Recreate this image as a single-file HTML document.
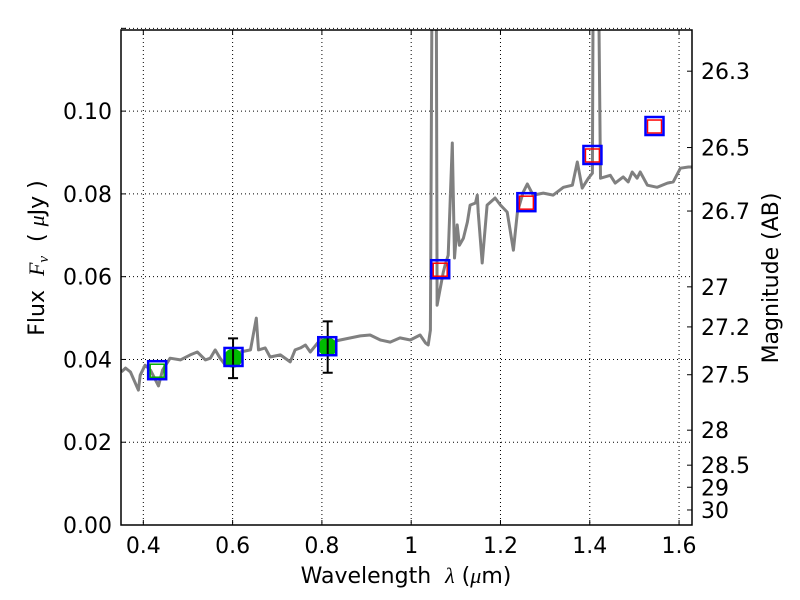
<!DOCTYPE html>
<html><head><meta charset="utf-8"><style>
body{margin:0;background:#fff}
svg{display:block;font-family:"DejaVu Sans","Liberation Sans",sans-serif}
</style></head><body>
<svg id="chart" width="800" height="600" viewBox="0 0 800 600">
<g id="grid"></g>
<g id="plot"></g>
<g id="axes"></g>
<text x="406" y="583" font-size="22" text-anchor="middle">Wavelength&#160;&#160;<tspan font-style="italic" font-family="Liberation Serif">λ</tspan> (<tspan font-style="italic" font-family="Liberation Serif">μ</tspan>m)</text>
<text transform="translate(44,258) rotate(-90)" font-size="22" text-anchor="middle">Flux&#160;&#160;<tspan font-style="italic" font-family="Liberation Serif">F</tspan><tspan font-style="italic" font-family="Liberation Serif" font-size="15" dy="4">ν</tspan><tspan dy="-4">&#160;&#160;(&#160;</tspan><tspan font-style="italic" font-family="Liberation Serif">μ</tspan>Jy )</text>
<text transform="translate(778,278) rotate(-90)" font-size="22" text-anchor="middle">Magnitude (AB)</text>
</svg>
<script>
const specWl=[0.351,0.360,0.371,0.389,0.393,0.404,0.416,0.434,0.443,0.460,0.483,0.505,0.521,0.539,0.550,0.561,0.572,0.584,0.599,0.617,0.640,0.653,0.658,0.673,0.684,0.707,0.729,0.740,0.752,0.763,0.774,0.796,0.819,0.841,0.864,0.886,0.908,0.931,0.953,0.975,0.998,1.020,1.032,1.038,1.043,1.047,1.056,1.058,1.072,1.076,1.083,1.092,1.097,1.103,1.108,1.117,1.126,1.132,1.144,1.148,1.150,1.159,1.170,1.188,1.200,1.215,1.229,1.238,1.251,1.260,1.273,1.296,1.318,1.341,1.361,1.372,1.383,1.397,1.406,1.408,1.419,1.424,1.446,1.457,1.475,1.486,1.495,1.506,1.513,1.529,1.551,1.574,1.587,1.603,1.621,1.632];
const specFlux=[0.0370,0.0379,0.0370,0.0326,0.0362,0.0386,0.0374,0.0336,0.0374,0.0403,0.0399,0.0411,0.0418,0.0399,0.0403,0.0423,0.0403,0.0386,0.0411,0.0418,0.0423,0.0500,0.0423,0.0428,0.0406,0.0411,0.0394,0.0423,0.0428,0.0435,0.0418,0.0447,0.0442,0.0447,0.0452,0.0457,0.0459,0.0447,0.0442,0.0452,0.0447,0.0459,0.0440,0.0435,0.0471,0.14,0.14,0.0531,0.0611,0.0628,0.0652,0.0923,0.0645,0.0725,0.0676,0.0693,0.0732,0.0773,0.0778,0.0797,0.0756,0.0633,0.0773,0.0790,0.0773,0.0756,0.0664,0.0756,0.0804,0.0824,0.0797,0.0802,0.0797,0.0816,0.0821,0.0877,0.0814,0.0838,0.0850,0.14,0.14,0.0838,0.0845,0.0826,0.0841,0.0829,0.0853,0.0838,0.0853,0.0821,0.0816,0.0826,0.0829,0.0862,0.0865,0.0865];
const obsWl=[0.601,0.813];
const obsFlux=[0.0403,0.0430];
const obsErr=[0.0048,0.0062];
const modelWl=[0.431,0.602,0.812,1.065,1.258,1.406,1.545];
const modelFlux=[0.0374,0.0406,0.0432,0.0618,0.0780,0.0894,0.0964];
const innerColor=['#00aa00',null,null,'red','red','red','red'];
const xTicks=[0.4,0.6,0.8,1.0,1.2,1.4,1.6];
const xTickLabels=['0.4','0.6','0.8','1','1.2','1.4','1.6'];
const yTicks=[0,0.02,0.04,0.06,0.08,0.10,0.12];
const yTickLabels=['0.00','0.02','0.04','0.06','0.08','0.10',''];
const magTicks=[26.3,26.5,26.7,27,27.2,27.5,28,28.5,29,30];

const L=121,R=692,T=30,B=525,X0=0.35,X1=1.629,Y0=0,Y1=0.1196;
const xs=v=>L+(v-X0)/(X1-X0)*(R-L);
const ys=v=>B-(v-Y0)/(Y1-Y0)*(B-T);
const NS='http://www.w3.org/2000/svg';
function mk(tag,attrs,parent){const e=document.createElementNS(NS,tag);for(const k in attrs)e.setAttribute(k,attrs[k]);parent.appendChild(e);return e;}
const grid=document.getElementById('grid'),plot=document.getElementById('plot'),axes=document.getElementById('axes');

xTicks.forEach((t,i)=>{const x=xs(t);
 const g=mk('line',{x1:x,x2:x,y1:T,y2:B,stroke:'#000','stroke-width':1,'stroke-dasharray':'1,3'},grid);
 
 mk('line',{x1:x,x2:x,y1:B,y2:B-5,stroke:'#000'},axes);mk('line',{x1:x,x2:x,y1:T,y2:T+5,stroke:'#000'},axes);
 const tx=mk('text',{x:x,y:B+28,'font-size':22,'text-anchor':'middle'},axes);tx.textContent=xTickLabels[i];
 
});
yTicks.forEach((t,i)=>{const y=ys(t);
 const g=mk('line',{x1:L,x2:R,y1:y,y2:y,stroke:'#000','stroke-width':1,'stroke-dasharray':'1,3'},grid);
 
 mk('line',{x1:L,x2:L+5,y1:y,y2:y,stroke:'#000'},axes);
 const tx=mk('text',{x:L-9,y:y+8,'font-size':22,'text-anchor':'end'},axes);tx.textContent=yTickLabels[i];
 
});
magTicks.forEach(m=>{const f=Math.pow(10,(23.9-m)/2.5);const y=ys(f);
 mk('line',{x1:R-5,x2:R,y1:y,y2:y,stroke:'#000'},axes);
 const tx=mk('text',{x:R+9,y:y+8,'font-size':22},axes);tx.textContent=String(m);
 
});

const cp=mk('clipPath',{id:'cp'},plot);mk('rect',{x:L,y:T,width:R-L,height:B-T},cp);
const d=specWl.map((w,i)=>(i?'L':'M')+xs(w).toFixed(1)+','+ys(specFlux[i]).toFixed(1)).join('');
const sp=mk('path',{d:d,fill:'none',stroke:'#808080','stroke-width':3,'stroke-linejoin':'round','clip-path':'url(#cp)'},plot);


modelWl.forEach((w,i)=>{const x=xs(w),y=ys(modelFlux[i]);
 if(innerColor[i]){const r=mk('rect',{x:x-7,y:y-6,width:14,height:13,fill:'none',stroke:innerColor[i],'stroke-width':1.5},plot);
  }
});
obsWl.forEach((w,i)=>{const x=xs(w),y=ys(obsFlux[i]),y1=ys(obsFlux[i]+obsErr[i]),y2=ys(obsFlux[i]-obsErr[i]);
 const c=mk('circle',{cx:x,cy:y,r:9.5,fill:'#00bb00'},plot);
 
 const e=mk('path',{d:`M${x},${y1}V${y2}M${x-5},${y1}H${x+5}M${x-5},${y2}H${x+5}`,stroke:'#000','stroke-width':2,fill:'none'},plot);
 
});
modelWl.forEach((w,i)=>{const x=xs(w),y=ys(modelFlux[i]);
 const r=mk('rect',{x:x-9,y:y-9,width:18,height:18,fill:'none',stroke:'#0000ff','stroke-width':2.5},plot);
 
});
const fr=mk('rect',{x:L,y:T,width:R-L,height:B-T,fill:'none',stroke:'#000','stroke-width':1.5},axes);

</script>
</body></html>
